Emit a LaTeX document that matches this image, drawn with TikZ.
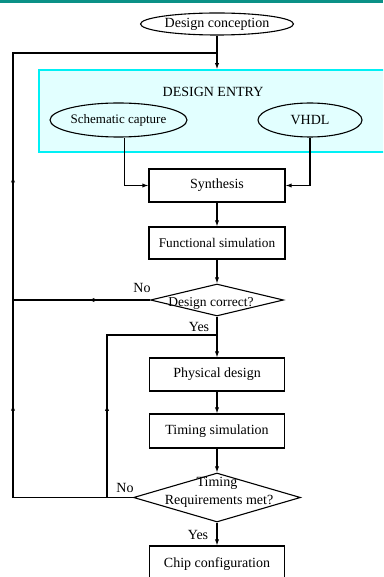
\documentclass[tikz,border=0pt]{standalone}
\usepackage{fontspec}
\setmainfont{Liberation Serif}
\usetikzlibrary{shapes.geometric,arrows.meta,calc}
\definecolor{topbar}{RGB}{10,145,135}
\definecolor{entryfill}{RGB}{226,255,255}
\definecolor{entryline}{RGB}{0,240,245}
\begin{document}
\begin{tikzpicture}[x=1pt,y=-1pt,
  line width=1.1pt,
  font=\fontsize{14}{16}\selectfont,
  arr/.style={-{Latex[length=6pt,width=4.2pt]}},
  oval/.style={draw,ellipse,inner sep=0pt},
  stepbox/.style={draw,rectangle,inner sep=0pt,minimum width=135,minimum height=33},
  decision/.style={draw,diamond,inner sep=0pt},
  lbl/.style={inner sep=0pt}
]
\useasboundingbox (0,0) rectangle (383,577);
\clip (0,0) rectangle (383,577);

% header strip
\fill[topbar] (0,0) rectangle (383,2.8);

% design entry block
\node[draw=entryline, fill=entryfill, line width=1.6pt, inner sep=0pt,
      minimum width=356, minimum height=82] (entry) at (217,111) {};
\node[lbl] (entrytitle) at (213,92) {DESIGN ENTRY};

% nodes
\node[oval, minimum width=153, minimum height=22] (concept) at (217,24) {Design conception};
\node[oval, minimum width=137, minimum height=34, font=\fontsize{13}{15}\selectfont] (schem) at (118.5,120) {Schematic capture};
\node[oval, minimum width=104, minimum height=34] (vhdl) at (310,120) {VHDL};
\node[stepbox, minimum width=136] (synth) at (217,185.5) {Synthesis};
\node[stepbox, minimum width=136, minimum height=32, font=\fontsize{13.3}{15}\selectfont] (funsim) at (217,243) {Functional simulation};
\node[decision, minimum width=133, minimum height=32] (dcorr) at (217,300) {};
\node[lbl, font=\fontsize{13.5}{15}\selectfont] (dcorrtxt) at (211,303) {Design correct?};
\node[stepbox] (phys) at (217,374.5) {Physical design};
\node[stepbox, minimum height=34] (tsim) at (217,431) {Timing simulation};
\node[decision, minimum width=167, minimum height=49] (treq) at (217,497.5) {};
\node[lbl] (treqa) at (217,483) {Timing};
\node[lbl] (treqb) at (219,501) {Requirements met?};
\node[stepbox, minimum height=36] (chip) at (217,564) {Chip configuration};

% branch labels
\node[lbl] (no1) at (142,288) {No};
\node[lbl] (yes1) at (199,327) {Yes};
\node[lbl] (no2) at (125,488) {No};
\node[lbl] (yes2) at (198,535) {Yes};

% junctions
\coordinate (jtop) at (217,53);
\coordinate (jyes) at (217,335);
\coordinate (lefttop) at (13,53);
\coordinate (leftmid) at (13,300);
\coordinate (leftbot) at (13,497.5);
\coordinate (innerbot) at (107,497.5);
\coordinate (innertop) at (107,335);

% main flow
\draw[arr] (concept.south) -- (entry.north);
\draw[arr] ($(schem.south)+(6,0)$) |- (synth.west);
\draw[arr] (vhdl.south) |- (synth.east);
\draw[arr] (synth) -- (funsim);
\draw[arr] (funsim) -- (dcorr);
\draw (dcorr.south) -- (jyes);
\draw[arr] (jyes) -- (phys.north);
\draw[arr] (phys) -- (tsim);
\draw[arr] (tsim) -- (treq);
\draw[arr] (treq) -- (chip);

% feedback loops
\draw[line join=miter] (dcorr.west) -- (leftmid) -- (lefttop) -- (jtop);
\draw[line join=miter] (treq.west) -- (leftbot) -- (leftmid);
\draw[line join=miter] (innerbot) -- (innertop) -- (jyes);

% direction marks on the loops
\draw[arr] (dcorr.west) -- ($(dcorr.west)!0.45!(leftmid)$);
\draw[arr] (leftmid) -- ($(leftmid)!0.5!(lefttop)$);
\draw[arr] (leftbot) -- ($(leftbot)!0.47!(leftmid)$);
\draw[arr] (innerbot) -- ($(innerbot)!0.57!(innertop)$);
\end{tikzpicture}
\end{document}
